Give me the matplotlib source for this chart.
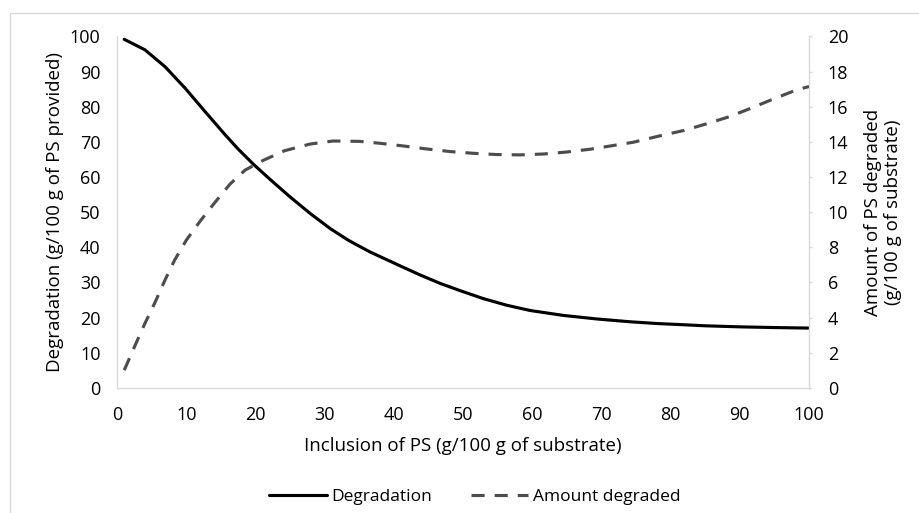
import matplotlib
matplotlib.use("Agg")
import matplotlib.pyplot as plt
from matplotlib.patches import Rectangle

plt.rcParams['font.family'] = ['Open Sans', 'DejaVu Sans']

# Data
deg_x = [1, 4, 6.9, 9.8, 12.7, 15.6, 17.5, 19.7, 22.1, 25.0, 27.9, 30.8, 33.4, 36.5, 40.9, 43.8,
         46.7, 49.5, 52.9, 56.3, 59.7, 64.5, 69.3, 74.1, 78, 81.3, 85, 90, 95, 100]
degradation = [99.2, 96.2, 91.4, 85.3, 78.6, 72.0, 67.9, 63.6, 59.3, 54.3, 49.6, 45.3, 42.0, 38.7,
               34.7, 32.1, 29.7, 27.7, 25.4, 23.5, 22.0, 20.6, 19.6, 18.8, 18.3, 18.0, 17.65,
               17.35, 17.15, 17.0]

amt_x = [1, 2.6, 4.0, 5.5, 6.9, 8.3, 10, 12, 13.9, 16.3, 18.5, 21.1, 24.2, 27.9, 31.2, 35, 38,
         41.3, 44.7, 48.1, 51.5, 54.8, 58.2, 61.6, 64.9, 68.3, 70.7, 74.6, 78.5, 81.9, 85.2, 88.6,
         91.5, 94.9, 98.2, 100]
amount_degraded = [1.0, 2.44, 3.67, 4.9, 6.14, 7.28, 8.42, 9.5, 10.45, 11.6, 12.4, 12.95, 13.5,
                   13.88, 14.05, 14.03, 13.92, 13.77, 13.6, 13.45, 13.35, 13.28, 13.26, 13.31,
                   13.42, 13.58, 13.73, 13.98, 14.35, 14.65, 15.03, 15.45, 15.9, 16.45, 16.96, 17.15]

x_ticks = list(range(0, 101, 10))
left_ticks = list(range(0, 101, 10))
right_ticks = list(range(0, 21, 2))

FS = 13
LFS = 13.5
GRID = '#d9d9d9'
DASHC = '#4d4d4d'

fig = plt.figure(figsize=(9.19, 5.13), dpi=100)
fig.patches.append(Rectangle((10 / 919, -0.1), 1.2, 1 - 13 / 513 + 0.1, transform=fig.transFigure,
                             fill=False, edgecolor=GRID, linewidth=1.0))

ax = fig.add_axes([117.3 / 919, 1 - 387.8 / 513, (809 - 117.3) / 919, (387.8 - 36.5) / 513])
ax2 = ax.twinx()

l1, = ax.plot(deg_x, degradation, color='black', linewidth=2.25, solid_capstyle='round',
              solid_joinstyle='round', label='Degradation', zorder=3)
l2, = ax2.plot(amt_x, amount_degraded, color=DASHC, linewidth=2.25, linestyle=(0, (4.2, 3.2)),
               label='Amount degraded', zorder=3)

ax.set_xlim(0, 100)
ax.set_ylim(0, 100)
ax2.set_ylim(0, 20)
ax.set_xticks(x_ticks)
ax.set_yticks(left_ticks)
ax2.set_yticks(right_ticks)

ax.spines['top'].set_visible(False)
ax2.spines['top'].set_visible(False)
ax2.spines['left'].set_visible(False)
ax2.spines['bottom'].set_visible(False)
ax.spines['right'].set_visible(False)
for sp in [ax.spines['left'], ax.spines['bottom'], ax2.spines['right']]:
    sp.set_color(GRID)
    sp.set_linewidth(1.0)

ax.tick_params(axis='x', length=0, pad=13, labelsize=FS)
ax.tick_params(axis='y', length=0, pad=12, labelsize=FS)
ax2.tick_params(axis='y', length=2.5, color=GRID, width=1.0, pad=11, labelsize=FS)

ax.set_xlabel('Inclusion of PS (g/100 g of substrate)', fontsize=LFS, labelpad=9.5)
ax.set_ylabel('Degradation (g/100 g of PS provided)', fontsize=LFS, labelpad=4.5)
ax2.set_ylabel('Amount of PS degraded\n(g/100 g of substrate)', fontsize=LFS, labelpad=11,
               rotation=90, linespacing=1.15)

fig.legend(handles=[l1, l2], loc='center', bbox_to_anchor=(475 / 919, 1 - 497 / 513), ncol=2,
           frameon=False, fontsize=12.5, handlelength=3.3, columnspacing=2.2, handletextpad=0.3)

fig.savefig('out.png', dpi=100)
